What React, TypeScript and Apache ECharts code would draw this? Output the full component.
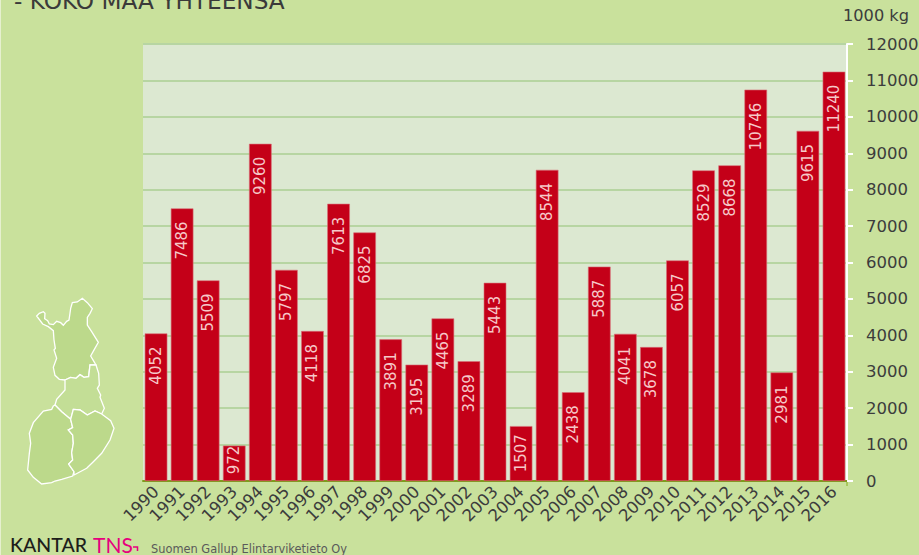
import React, { useEffect, useRef } from "react";
import * as echarts from "echarts";

const years = ["1990","1991","1992","1993","1994","1995","1996","1997","1998","1999","2000","2001","2002","2003","2004","2005","2006","2007","2008","2009","2010","2011","2012","2013","2014","2015","2016"];
const values = [4052,7486,5509,972,9260,5797,4118,7613,6825,3891,3195,4465,3289,5443,1507,8544,2438,5887,4041,3678,6057,8529,8668,10746,2981,9615,11240];

const north = [[110,108],[118,100],[130,95],[135,100],[134,116],[143,122],[148,132],[160,134],[170,124],[182,128],[190,136],[200,124],[207,120],[212,85],[217,68],[232,66],[247,55],[262,68],[277,86],[270,100],[262,112],[262,135],[275,155],[295,187],[283,208],[272,228],[282,245],[288,255],[270,255],[266,290],[252,292],[240,284],[228,295],[212,292],[195,300],[178,298],[165,286],[160,262],[170,235],[162,210],[166,205],[162,180],[160,152],[145,140],[128,132]];
const middle = [[195,300],[212,292],[228,295],[240,284],[252,292],[266,290],[270,255],[288,255],[296,280],[298,315],[292,325],[302,345],[300,352],[313,385],[305,402],[285,393],[262,405],[240,390],[220,388],[212,418],[185,395],[165,375],[170,358],[195,330]];
const southWest = [[160,378],[165,375],[185,395],[212,418],[218,443],[205,450],[218,465],[220,490],[215,518],[218,540],[206,552],[222,575],[218,588],[185,598],[165,603],[155,608],[125,612],[100,592],[83,570],[88,520],[92,490],[88,460],[100,428],[130,393],[155,388]];
const southEast = [[220,388],[240,390],[262,405],[285,393],[305,402],[332,422],[342,445],[330,480],[305,520],[280,545],[260,565],[222,585],[222,575],[206,552],[218,540],[215,518],[220,490],[218,465],[205,450],[218,443],[212,418]];

const mapPoints = (pts: number[][]) => pts.map(([x, y]) => [x / 3, 280 + y / 3]);
const region = (pts: number[][], fill: string) => ({
  type: "polygon",
  shape: { points: mapPoints(pts) },
  style: { fill, stroke: "#ffffff", lineWidth: 1.3 },
  silent: true,
});

export default function App() {
  const ref = useRef<HTMLDivElement>(null);
  useEffect(() => {
    document.body.style.margin = "0";
    const chart = echarts.init(ref.current!, null, { renderer: "svg" });
    const font = "DejaVu Sans";
    chart.setOption({
      animation: false,
      backgroundColor: "#c9e19c",
      grid: { left: 143, right: 72, top: 44, bottom: 74, show: true, backgroundColor: "#dce8d1", borderWidth: 0, outerBoundsMode: "none" },
      xAxis: {
        type: "category",
        data: years,
        axisLine: { lineStyle: { color: "#7f9a1e", width: 2 } },
        axisTick: { alignWithLabel: true, length: 5, lineStyle: { color: "#86ad1e", width: 1 } },
        axisLabel: { rotate: 45, interval: 0, fontFamily: font, fontSize: 16.5, color: "#3c3c3c", margin: 8 },
      },
      yAxis: {
        type: "value",
        position: "right",
        min: 0,
        max: 12000,
        interval: 1000,
        axisLine: { show: true, lineStyle: { color: "#ffffff", width: 2 } },
        axisTick: { show: true, length: 6, lineStyle: { color: "#ffffff", width: 2 } },
        axisLabel: { fontFamily: font, fontSize: 16.5, color: "#3c3c3c", margin: 19, formatter: (v: number) => String(v) },
        splitLine: { lineStyle: { color: "#b7d5a2", width: 2 } },
      },
      series: [
        {
          type: "bar",
          data: values.map((value) => ({
            value,
            label: { distance: value < 1000 ? 0 : value < 2000 ? 8 : 13 },
          })),
          barWidth: 22.6,
          itemStyle: { color: "#c40018", borderColor: "#d9707a", borderWidth: 0.6 },
          label: {
            show: true,
            position: "insideTop",
            rotate: 90,
            align: "right",
            verticalAlign: "middle",
            fontFamily: font,
            fontSize: 15,
            color: "#f6c8c8",
            formatter: (p: any) => String(p.value),
          },
        },
      ],
      graphic: [
        { type: "rect", shape: { x: 0, y: 0, width: 1, height: 555 }, style: { fill: "#e6f0cf" }, silent: true },
        { type: "text", x: 14, y: -11, style: { text: "- KOKO MAA YHTEENSÄ", font: `23.2px ${font}`, fill: "#3a3a3a" } },
        { type: "text", x: 843, y: 7, style: { text: "1000 kg", font: `16.2px ${font}`, fill: "#3c3c3c" } },
        { type: "line", shape: { x1: 847, y1: 481, x2: 847, y2: 486 }, style: { stroke: "#86ad1e", lineWidth: 1 } },
        region(north, "#bcd98b"),
        region(middle, "#c3de96"),
        region(southWest, "#bcd98b"),
        region(southEast, "#bcd98b"),
        { type: "text", x: 10, y: 544.5, style: { text: "KANTAR", font: `500 19.5px Lato`, fill: "#1d1d1b", verticalAlign: "middle", lineHeight: 18 } },
        { type: "text", x: 93, y: 544, style: { text: "TNS", font: `400 21px Lato`, fill: "#e6007e", verticalAlign: "middle", lineHeight: 18 } },
        { type: "polyline", shape: { points: [[133, 547], [137.5, 547], [137.5, 551]] }, style: { stroke: "#e6007e", lineWidth: 1.5, fill: "none" } },
        { type: "text", x: 151, y: 548.5, style: { text: "Suomen Gallup Elintarviketieto Oy", font: `11.4px ${font}`, fill: "#5a5a5a", verticalAlign: "middle", lineHeight: 11 } },
      ],
    });
    return () => chart.dispose();
  }, []);
  return <div ref={ref} style={{ width: 919, height: 555 }} />;
}
